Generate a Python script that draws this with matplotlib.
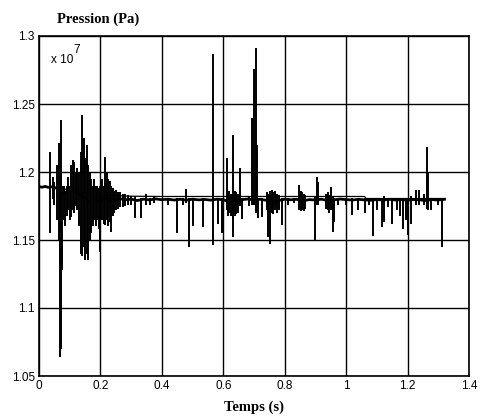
import matplotlib
matplotlib.use("Agg")
import matplotlib.pyplot as plt

# pressure values are in units of 1e7 Pa

# slow trend curve
trend_t = [0, 0.03, 0.065, 0.1, 0.13, 0.2, 0.3, 0.4, 0.6, 0.8, 1.0, 1.06, 1.065, 1.2, 1.322]
trend_p = [1.1893, 1.189, 1.1885, 1.1865, 1.185, 1.183, 1.1822, 1.182, 1.182, 1.182,
           1.182, 1.182, 1.1805, 1.1805, 1.1805]

# signal centre trace
base_t = [0, 0.01, 0.02, 0.03, 0.04, 0.05, 0.06, 0.08, 0.10, 0.12, 0.14, 0.16, 0.18,
          0.20, 0.22, 0.24, 0.26, 0.28, 0.30, 0.32, 0.34, 0.36, 0.38, 0.40, 0.42, 0.44,
          0.46, 0.48, 0.50, 0.52, 0.54, 0.56, 0.58, 0.60, 0.62, 0.64, 0.66, 0.68, 0.70,
          0.72, 0.74, 0.76, 0.78, 0.80, 0.82, 0.84, 0.86, 0.88, 0.90, 0.92, 0.94, 0.96,
          0.98, 1.00, 1.02, 1.04, 1.06, 1.08, 1.10, 1.12, 1.14, 1.16, 1.18, 1.20, 1.22,
          1.24, 1.26, 1.28, 1.30, 1.32]
base_p = [1.1893, 1.1888, 1.1894, 1.1887, 1.1891, 1.1885, 1.1880, 1.1840, 1.1870, 1.1850,
          1.1820, 1.1790, 1.1800, 1.1780, 1.1810, 1.1790, 1.1805, 1.1795, 1.1800, 1.1790,
          1.1800, 1.1795, 1.1802, 1.1796, 1.1800, 1.1794, 1.1799, 1.1793, 1.1800, 1.1795,
          1.1798, 1.1793, 1.1800, 1.1796, 1.1780, 1.1790, 1.1797, 1.1801, 1.1795, 1.1799,
          1.1792, 1.1785, 1.1790, 1.1800, 1.1796, 1.1799, 1.1788, 1.1797, 1.1794, 1.1800,
          1.1790, 1.1795, 1.1801, 1.1797, 1.1794, 1.1799, 1.1795, 1.1792, 1.1798, 1.1793,
          1.1799, 1.1794, 1.1797, 1.1792, 1.1798, 1.1795, 1.1790, 1.1797, 1.1794, 1.1799]

# spikes / oscillations: time, min, max
spike_t = [0.035, 0.044, 0.050, 0.058, 0.064, 0.068, 0.070, 0.072, 0.075, 0.080, 0.085,
           0.090, 0.095, 0.100, 0.105, 0.110, 0.115, 0.120, 0.125, 0.130, 0.136, 0.140,
           0.145, 0.150, 0.155, 0.160, 0.165, 0.170, 0.175, 0.180, 0.185, 0.190, 0.195,
           0.199, 0.205, 0.210, 0.215, 0.220, 0.225, 0.230, 0.235, 0.240, 0.245, 0.250,
           0.258, 0.265, 0.272, 0.280, 0.290, 0.300, 0.3126, 0.331, 0.348, 0.360, 0.375,
           0.420, 0.448, 0.470, 0.480, 0.487, 0.500, 0.535, 0.5655, 0.584, 0.597, 0.611,
           0.616, 0.620, 0.625, 0.630, 0.633, 0.638, 0.643, 0.648, 0.655, 0.660, 0.685,
           0.695, 0.6985, 0.7066, 0.709, 0.714, 0.725, 0.742, 0.747, 0.752, 0.757, 0.762,
           0.768, 0.775, 0.782, 0.790, 0.810, 0.830, 0.848, 0.852, 0.857, 0.862, 0.867,
           0.8987, 0.905, 0.908, 0.935, 0.940, 0.945, 0.950, 0.957, 0.962, 0.975, 1.0,
           1.02, 1.04, 1.06, 1.075, 1.0885, 1.10, 1.116, 1.123, 1.135, 1.149, 1.165,
           1.176, 1.186, 1.195, 1.2026, 1.21, 1.228, 1.238, 1.255, 1.262, 1.268, 1.275,
           1.300, 1.311]
spike_lo = [1.155, 1.180, 1.176, 1.165, 1.150, 1.064, 1.070, 1.100, 1.128, 1.165, 1.160,
            1.168, 1.172, 1.1645, 1.167, 1.172, 1.170, 1.175, 1.172, 1.160, 1.140, 1.138,
            1.145, 1.135, 1.140, 1.1356, 1.150, 1.155, 1.160, 1.165, 1.160, 1.165, 1.158,
            1.1415, 1.165, 1.162, 1.1609, 1.165, 1.160, 1.163, 1.156, 1.168, 1.170, 1.172,
            1.173, 1.174, 1.174, 1.175, 1.176, 1.176, 1.166, 1.166, 1.176, 1.176, 1.177,
            1.176, 1.155, 1.176, 1.177, 1.145, 1.160, 1.1596, 1.1464, 1.162, 1.155, 1.172,
            1.168, 1.170, 1.168, 1.167, 1.152, 1.168, 1.169, 1.170, 1.175, 1.1658, 1.175,
            1.176, 1.176, 1.170, 1.176, 1.166, 1.167, 1.172, 1.152, 1.1474, 1.170, 1.169,
            1.172, 1.170, 1.172, 1.161, 1.176, 1.177, 1.172, 1.171, 1.172, 1.171, 1.173,
            1.150, 1.176, 1.176, 1.173, 1.172, 1.170, 1.172, 1.156, 1.1636, 1.176, 1.176,
            1.1686, 1.172, 1.170, 1.176, 1.153, 1.172, 1.1595, 1.163, 1.174, 1.162, 1.172,
            1.168, 1.158, 1.165, 1.1537, 1.162, 1.176, 1.176, 1.176, 1.1729, 1.172, 1.172,
            1.176, 1.1451]
spike_hi = [1.215, 1.196, 1.193, 1.205, 1.221, 1.190, 1.200, 1.238, 1.190, 1.190, 1.185,
            1.190, 1.196, 1.190, 1.205, 1.209, 1.207, 1.200, 1.203, 1.200, 1.215, 1.242,
            1.225, 1.210, 1.220, 1.205, 1.200, 1.195, 1.190, 1.195, 1.190, 1.190, 1.188,
            1.190, 1.195, 1.190, 1.2113, 1.200, 1.195, 1.1935, 1.190, 1.188, 1.186, 1.187,
            1.185, 1.1855, 1.184, 1.1835, 1.183, 1.182, 1.182, 1.181, 1.184, 1.181, 1.182,
            1.181, 1.181, 1.181, 1.1875, 1.181, 1.181, 1.181, 1.2868, 1.181, 1.181, 1.2105,
            1.185, 1.186, 1.184, 1.186, 1.227, 1.186, 1.185, 1.184, 1.203, 1.181, 1.182,
            1.2396, 1.276, 1.291, 1.220, 1.181, 1.181, 1.185, 1.184, 1.186, 1.187, 1.185,
            1.186, 1.184, 1.183, 1.181, 1.181, 1.181, 1.1905, 1.186, 1.185, 1.184, 1.183,
            1.182, 1.1966, 1.193, 1.184, 1.185, 1.183, 1.189, 1.182, 1.181, 1.181, 1.181,
            1.181, 1.181, 1.181, 1.180, 1.181, 1.180, 1.181, 1.182, 1.181, 1.181, 1.181,
            1.181, 1.181, 1.181, 1.181, 1.182, 1.187, 1.187, 1.184, 1.2187, 1.200, 1.181,
            1.181, 1.181]

x_ticks = [0, 0.2, 0.4, 0.6, 0.8, 1.0, 1.2, 1.4]
x_labels = ["0", "0.2", "0.4", "0.6", "0.8", "1", "1.2", "1.4"]
y_ticks = [1.05, 1.1, 1.15, 1.2, 1.25, 1.3]
y_labels = ["1.05", "1.1", "1.15", "1.2", "1.25", "1.3"]

fig = plt.figure(figsize=(4.84, 4.19), dpi=100)
ax = fig.add_axes([39 / 484, 1 - 376 / 419, 430 / 484, 340 / 419])

ax.plot(trend_t, trend_p, color="black", lw=0.9)
ax.plot(base_t, base_p, color="black", lw=2.0)
ax.vlines(spike_t, spike_lo, spike_hi, color="black", lw=1.4)

ax.set_xlim(0, 1.4)
ax.set_ylim(1.05, 1.3)
ax.set_xticks(x_ticks)
ax.set_xticklabels(x_labels)
ax.set_yticks(y_ticks)
ax.set_yticklabels(y_labels)
ax.grid(True, color="black", lw=1.0)
ax.set_axisbelow(True)
ax.tick_params(length=0, labelsize=8.5, pad=3)
for lab in ax.get_xticklabels() + ax.get_yticklabels():
    lab.set_family("Liberation Sans")
for sp in ax.spines.values():
    sp.set_linewidth(1.2)

ax.text(0.027, 0.92, "x 10", transform=ax.transAxes, fontsize=8.5,
        family="Liberation Sans", ha="left", va="baseline")
ax.text(0.080, 0.95, "7", transform=ax.transAxes, fontsize=8.5,
        family="Liberation Sans", ha="left", va="baseline")

fig.text(98 / 484, 1 - 19 / 419, "Pression (Pa)", family="Liberation Serif",
         weight="bold", fontsize=10.5, ha="center", va="center")
fig.text(254 / 484, 1 - 407 / 419, "Temps (s)", family="Liberation Serif",
         weight="bold", fontsize=10.5, ha="center", va="center")

fig.savefig("out.png", dpi=100)
